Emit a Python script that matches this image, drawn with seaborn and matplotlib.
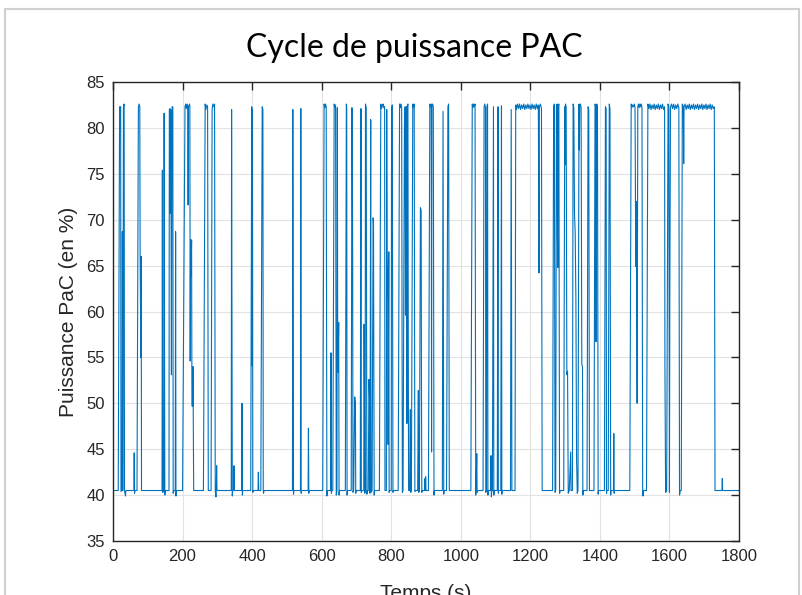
import matplotlib
matplotlib.use("Agg")
import matplotlib.pyplot as plt
import numpy as np
import pandas as pd
import seaborn as sns
from matplotlib.patches import Rectangle

# Breakpoints of the fuel-cell power cycle, grouped by time span
t_0_200 = [0, 15, 19, 20, 22, 23, 26, 27, 28, 29, 30, 32, 33, 36, 37,
           60, 61, 62, 63,
           69, 73, 75, 77, 78, 80, 81, 82,
           141, 142, 143, 146, 147, 149, 150,
           161, 162, 164, 165, 166, 167, 168, 169, 170, 172, 173, 175, 179, 180, 181, 182]
p_0_200 = [40.5, 40.5, 82.3, 82.0, 82.3, 40.4, 40.5, 68.7, 40.5, 55.3, 82.3, 82.6, 40.5, 39.9, 40.5,
           40.5, 44.6, 40.2, 40.5,
           40.5, 82.3, 82.6, 82.3, 66.4, 55.0, 66.0, 40.5,
           40.5, 75.4, 40.3, 40.5, 81.6, 40.0, 40.5,
           40.5, 82.0, 82.1, 70.7, 82.0, 71.0, 53.1, 76.0, 82.3, 82.3, 40.2, 40.5, 40.5, 68.7, 39.9, 40.5]

t_200_450 = [200, 207, 209, 211, 213, 215, 216, 217, 220, 221, 222, 223, 224, 226, 227, 229, 230, 232,
             260, 265, 267, 270, 272, 274, 282, 285, 287, 290, 292, 294, 296, 297, 298, 299,
             340, 341, 343, 344, 347, 348, 349,
             370, 371, 372, 373,
             396, 399, 400, 401, 402, 403,
             417, 418, 419,
             425, 429, 431, 432, 433, 434]
p_200_450 = [40.5, 82.3, 82.6, 82.1, 82.6, 82.3, 71.6, 82.3, 82.6, 82.3, 54.6, 67.8, 63.8, 67.8, 49.7, 49.7, 54.0, 40.5,
             40.5, 82.6, 82.0, 82.5, 82.3, 40.5, 40.5, 82.0, 82.6, 82.3, 82.6, 40.5, 39.8, 40.5, 43.2, 40.5,
             40.5, 82.0, 39.9, 40.5, 40.5, 43.2, 40.5,
             40.5, 50.0, 40.0, 40.5,
             40.5, 82.3, 54.1, 82.0, 40.3, 40.5,
             40.5, 42.5, 40.5,
             40.5, 82.3, 82.0, 40.5, 40.2, 40.5]

t_450_700 = [516, 517, 519, 520,
             539, 540, 541, 542,
             561, 562, 563, 564,
             603, 607, 609, 611, 613, 615, 616,
             626, 627, 628, 629,
             632, 636, 638, 640, 642, 644, 645, 646, 647, 649, 650, 651,
             668, 671, 672, 673, 674,
             685, 687, 688, 689, 690, 692, 695, 697, 698, 699]
p_450_700 = [40.5, 82.0, 40.1, 40.5,
             40.5, 82.1, 40.2, 40.5,
             40.5, 47.3, 40.2, 40.5,
             40.5, 82.6, 82.2, 82.6, 82.3, 39.9, 40.5,
             40.5, 55.5, 40.2, 40.5,
             40.5, 82.6, 82.2, 82.5, 40.0, 40.5, 82.2, 58.8, 53.4, 58.8, 40.0, 40.5,
             40.5, 82.6, 82.2, 40.0, 40.5,
             40.5, 82.2, 76.7, 68.2, 40.3, 40.5, 50.7, 50.0, 40.2, 40.5]

t_700_900 = [711, 713, 714, 715, 721, 722, 723, 724, 725, 726, 728, 730, 731,
             734, 736, 738, 739, 741, 742, 745, 748, 749, 751, 752,
             766, 770, 772, 775, 777, 779, 781, 782, 786, 787, 788, 790, 791, 793, 794, 795,
             800, 801, 803, 805, 806,
             820, 824, 826, 828, 830, 832, 834, 838, 840, 841, 842, 843, 844, 845, 846, 848, 849, 850,
             853, 855, 856, 858, 862, 864, 866, 868, 870, 876, 878, 879, 881, 884, 886, 887, 888, 889,
             896, 897, 898, 899, 900]
p_700_900 = [40.5, 82.1, 40.3, 40.5, 40.5, 58.6, 51.0, 40.2, 40.5, 82.6, 82.2, 40.1, 40.5,
             40.5, 52.6, 50.0, 40.2, 80.9, 40.3, 40.5, 70.2, 69.5, 40.0, 40.5,
             40.5, 82.6, 82.1, 82.5, 82.6, 82.2, 82.3, 40.5, 40.5, 82.0, 66.7, 61.0, 45.5, 66.5, 40.3, 40.5,
             40.5, 82.0, 82.5, 40.3, 40.5,
             40.5, 82.6, 82.2, 82.6, 82.3, 40.3, 40.5, 80.5, 82.3, 59.6, 82.0, 69.9, 82.3, 47.8, 82.3, 82.6, 57.0, 40.5,
             40.5, 49.3, 40.3, 40.5, 82.6, 82.2, 82.6, 40.4, 40.5, 40.5, 51.4, 40.3, 40.5, 71.3, 71.0, 51.0, 40.3, 40.5,
             40.5, 41.8, 40.5, 42.0, 40.5]

t_900_1150 = [907, 911, 913, 915, 916, 917, 919, 921, 923, 924,
              947, 949, 951, 952,
              959, 963, 965, 967,
              1029, 1033, 1035, 1037, 1039, 1041, 1043, 1044, 1046, 1047, 1048,
              1064, 1067, 1069, 1071, 1072, 1074, 1075, 1077, 1078, 1079,
              1086, 1087, 1088, 1089,
              1091, 1094, 1095, 1096,
              1105, 1107, 1108, 1109,
              1115, 1117, 1118, 1119,
              1143, 1145, 1147]
p_900_1150 = [40.5, 82.6, 82.3, 82.6, 44.7, 82.3, 82.6, 82.3, 40.0, 40.5,
              40.5, 81.8, 40.1, 40.5,
              40.5, 82.3, 82.6, 40.5,
              40.5, 82.6, 82.2, 82.6, 82.3, 82.6, 40.0, 40.5, 44.5, 40.3, 40.5,
              40.5, 82.3, 82.6, 82.2, 40.3, 40.5, 82.3, 82.6, 40.0, 40.5,
              40.5, 44.3, 39.8, 40.5,
              40.5, 82.3, 40.0, 40.5,
              40.5, 82.3, 40.2, 40.5,
              40.5, 82.4, 40.1, 40.5,
              40.5, 82.0, 40.5]

t_1150_1250 = [1156, 1158, 1160, 1163, 1166, 1169, 1172, 1175, 1178, 1181, 1184, 1187, 1190,
               1193, 1196, 1199, 1202, 1205, 1208, 1211, 1214, 1217, 1220, 1223, 1225, 1226,
               1229, 1232, 1234]
p_1150_1250 = [40.5, 82.5, 82.0, 82.6, 82.1, 82.6, 82.0, 82.5, 82.1, 82.6, 82.0, 82.5, 82.1,
               82.6, 82.1, 82.5, 82.0, 82.6, 82.1, 82.5, 82.0, 82.6, 82.1, 82.5, 64.2, 82.3,
               82.6, 82.1, 40.5]

t_1250_1450 = [1264, 1267, 1269, 1271, 1273, 1275, 1277, 1278, 1279, 1280, 1282, 1284, 1286,
               1296, 1299, 1300, 1301, 1303, 1305, 1307, 1309, 1312, 1316, 1317, 1321, 1323, 1325,
               1327, 1329, 1331, 1333, 1335, 1337, 1340, 1341, 1342, 1344, 1346, 1348, 1350, 1351, 1352,
               1363, 1366, 1368, 1370,
               1383, 1386, 1388, 1389, 1391, 1393, 1395, 1396,
               1413, 1416, 1418, 1419, 1420, 1424, 1427, 1429, 1431, 1432,
               1439, 1440, 1441, 1442]
p_1250_1450 = [40.5, 82.3, 82.6, 40.3, 40.5, 82.3, 82.6, 68.4, 64.8, 82.3, 82.6, 40.2, 40.5,
               40.5, 82.3, 76.0, 82.6, 82.3, 53.1, 53.5, 40.2, 40.5, 44.7, 40.5, 40.5, 82.6, 82.2,
               70.7, 68.5, 61.3, 43.8, 40.2, 40.5, 82.6, 77.6, 82.3, 82.6, 82.2, 54.2, 54.0, 40.0, 40.5,
               40.5, 82.3, 82.0, 40.5,
               40.5, 82.6, 82.4, 56.7, 82.6, 82.2, 40.1, 40.5,
               40.5, 82.3, 82.1, 40.2, 40.5, 40.5, 82.6, 82.1, 40.0, 40.5,
               40.5, 46.7, 40.2, 40.5]

t_1450_1632 = [1486, 1490, 1492, 1494, 1497, 1499, 1501, 1502, 1503, 1504, 1506, 1507, 1509,
               1511, 1513, 1515, 1517, 1519, 1521, 1523, 1524, 1526,
               1534, 1538, 1541, 1544, 1547, 1550, 1553, 1556, 1559, 1562, 1565, 1568, 1571,
               1574, 1577, 1580, 1583, 1586, 1587, 1589, 1592, 1596, 1598, 1600, 1601, 1603,
               1606, 1609, 1612, 1615, 1618, 1621, 1624, 1627, 1629, 1631]
p_1450_1632 = [40.5, 82.6, 82.2, 82.5, 82.3, 82.6, 82.2, 75.4, 64.9, 72.0, 61.9, 50.0, 82.3,
               82.6, 82.2, 82.6, 82.3, 82.6, 82.2, 40.2, 39.9, 40.5,
               40.5, 82.6, 82.1, 82.6, 82.0, 82.5, 82.1, 82.6, 82.0, 82.5, 82.1, 82.6, 82.0,
               82.5, 82.1, 82.6, 82.0, 82.3, 53.9, 40.3, 40.5, 82.6, 82.2, 40.3, 61.5, 82.3,
               82.6, 82.1, 82.6, 82.0, 82.5, 82.1, 82.6, 82.2, 40.0, 40.5]

t_1632_1800 = [1634, 1637, 1640, 1641, 1642, 1645, 1648, 1651, 1654, 1657, 1660, 1663, 1666,
               1669, 1672, 1675, 1678, 1681, 1684, 1687, 1690, 1693, 1696, 1699, 1702, 1705,
               1708, 1711, 1714, 1717, 1720, 1723, 1726, 1729, 1731,
               1751, 1752, 1753, 1800]
p_1632_1800 = [40.5, 82.6, 82.3, 76.1, 82.3, 82.6, 82.0, 82.5, 82.1, 82.6, 82.0, 82.5, 82.1,
               82.6, 82.0, 82.5, 82.1, 82.6, 82.0, 82.5, 82.1, 82.6, 82.0, 82.5, 82.1, 82.6,
               82.0, 82.5, 82.1, 82.6, 82.0, 82.5, 82.1, 82.3, 40.5,
               40.5, 41.8, 40.5, 40.5]

time_parts = [t_0_200, t_200_450, t_450_700, t_700_900, t_900_1150,
              t_1150_1250, t_1250_1450, t_1450_1632, t_1632_1800]
power_parts = [p_0_200, p_200_450, p_450_700, p_700_900, p_900_1150,
               p_1150_1250, p_1250_1450, p_1450_1632, p_1632_1800]
for tp, pp in zip(time_parts, power_parts):
    assert len(tp) == len(pp)

df = pd.DataFrame({
    "Temps (s)": np.concatenate(time_parts).astype(float),
    "Puissance": np.concatenate(power_parts).astype(float),
})

x_ticks = list(range(0, 1801, 200))
y_ticks = list(range(35, 86, 5))

sns.set_style("white")
plt.rcParams["font.family"] = ["Liberation Sans", "DejaVu Sans"]

W, H = 803, 595
fig = plt.figure(figsize=(W / 100, H / 100), dpi=100)
ax = fig.add_axes([113 / W, 1 - 541 / H, (739 - 113) / W, (541 - 82) / H])

sns.lineplot(data=df, x="Temps (s)", y="Puissance", ax=ax, sort=False,
             estimator=None, color="#0072BD", linewidth=0.8)

ax.set_xlim(0, 1800)
ax.set_ylim(35, 85)
ax.set_xticks(x_ticks)
ax.set_yticks(y_ticks)
ax.grid(True, color="#e2e2e2", linewidth=0.8)
ax.set_axisbelow(True)
ax.tick_params(direction="in", length=6, width=1, top=True, right=True,
               labelsize=12, colors="#262626", pad=6)
for s in ax.spines.values():
    s.set_color("#262626")
    s.set_linewidth(1.0)

ax.set_xlabel("Temps (s)", fontsize=15, color="#262626", labelpad=14)
ax.set_ylabel("Puissance PaC (en %)", fontsize=15, color="#262626", labelpad=6)

fig.text(414 / W, 1 - 48 / H, "Cycle de puissance PAC", ha="center", va="center",
         fontsize=23, family=["Lato", "DejaVu Sans"], color="#000000")

# Light window frame around the figure
fig.patches.append(Rectangle((5 / W, -0.05), (799 - 5) / W, 1.05 - 9 / H,
                             transform=fig.transFigure, fill=False,
                             edgecolor="#d0d0d0", linewidth=1.5))

fig.savefig("out.png", dpi=100)
